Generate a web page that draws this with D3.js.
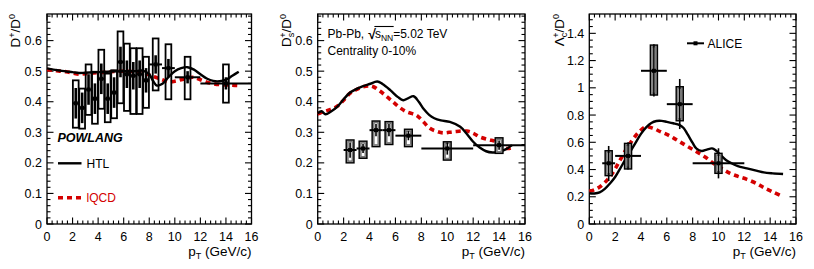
<!DOCTYPE html>
<html><head><meta charset="utf-8">
<script src="https://cdn.jsdelivr.net/npm/d3@7"></script>
<style>
html,body{margin:0;padding:0;background:#fff;}
text{font-family:"Liberation Sans",Arial,Helvetica,sans-serif;}
</style></head>
<body><svg id="c" width="814" height="269"></svg>
<script>
// ---------- DATA ----------
// Panel 1: D+/D0
const dplusPt      = [2.25,2.75,3.25,3.75,4.25,4.75,5.25,5.75,6.25,6.75,7.25,7.75,8.5,9.5,11,14];
const dplusXlo     = [2,2.5,3,3.5,4,4.5,5,5.5,6,6.5,7,7.5,8,9,10,12];
const dplusXhi     = [2.5,3,3.5,4,4.5,5,5.5,6,6.5,7,7.5,8,9,10,12,16];
const dplusVal     = [0.395,0.38,0.44,0.41,0.475,0.41,0.43,0.53,0.49,0.485,0.49,0.47,0.522,0.51,0.48,0.46];
const dplusStat    = [0.05,0.05,0.05,0.05,0.05,0.05,0.05,0.05,0.045,0.045,0.045,0.04,0.03,0.03,0.02,0.02];
const dplusSystLo  = [0.315,0.312,0.357,0.328,0.377,0.333,0.346,0.395,0.37,0.36,0.36,0.38,0.437,0.408,0.408,0.397];
const dplusSystHi  = [0.470,0.443,0.522,0.498,0.570,0.492,0.503,0.630,0.59,0.575,0.575,0.547,0.607,0.588,0.547,0.522];
const dplusHtlX    = [0,0.5,1,1.5,2,2.5,3,4,5,6,7,7.5,8,8.3,8.6,9,9.5,10,10.5,11,11.5,12,12.5,13,13.5,14,14.5,15];
const dplusHtlY    = [0.509,0.505,0.502,0.499,0.497,0.494,0.495,0.497,0.499,0.500,0.500,0.502,0.490,0.468,0.453,0.458,0.480,0.500,0.510,0.513,0.505,0.490,0.476,0.468,0.467,0.472,0.485,0.498];
const dplusLqcdX   = [0,0.5,1,1.5,2,2.5,3,4,5,6,7,7.5,8,8.5,9,9.5,10,10.5,11,11.5,12,12.5,13,13.5,14,14.5,15];
const dplusLqcdY   = [0.505,0.503,0.500,0.498,0.494,0.490,0.492,0.495,0.498,0.500,0.498,0.495,0.488,0.480,0.472,0.465,0.467,0.472,0.478,0.480,0.472,0.464,0.459,0.456,0.455,0.454,0.453];

// Panel 2: Ds+/D0
const dsPt     = [2.5,3.5,4.5,5.5,7,10,14];
const dsXlo    = [2,3,4,5,6,8,12];
const dsXhi    = [3,4,5,6,8,12,16];
const dsVal    = [0.242,0.247,0.307,0.307,0.289,0.247,0.258];
const dsStat   = [0.025,0.015,0.02,0.02,0.015,0.02,0.015];
const dsSystLo = [0.200,0.215,0.253,0.260,0.253,0.209,0.231];
const dsSystHi = [0.275,0.271,0.337,0.335,0.310,0.269,0.282];
const dsHtlX   = [0,0.3,0.6,1,1.5,2,2.5,3,3.5,4,4.6,5,5.6,6.2,6.6,7,7.4,7.8,8.2,8.6,9,9.5,10.2,11,11.5,12,12.5,13,13.5,14,14.5,15];
const dsHtlY   = [0.362,0.369,0.359,0.367,0.383,0.408,0.430,0.442,0.451,0.458,0.466,0.458,0.438,0.415,0.405,0.412,0.418,0.400,0.375,0.357,0.346,0.339,0.334,0.318,0.295,0.269,0.250,0.238,0.234,0.236,0.244,0.258];
const dsLqcdX  = [0,0.5,1,1.5,2,2.5,3,3.5,4,4.3,4.8,5.3,5.8,6.3,6.85,7.6,8.1,8.66,9.2,9.7,10.5,11.5,12,12.5,13.2,13.8,14.6,15];
const dsLqcdY  = [0.360,0.368,0.375,0.385,0.405,0.428,0.440,0.449,0.452,0.449,0.435,0.418,0.400,0.382,0.367,0.356,0.337,0.313,0.303,0.298,0.302,0.304,0.297,0.285,0.276,0.269,0.247,0.250];

// Panel 3: Lambda_c+/D0
const lcPt     = [1.5,3,5,7,10];
const lcXlo    = [1,2,4,6,8];
const lcXhi    = [2,4,6,8,12];
const lcVal    = [0.446,0.50,1.125,0.88,0.446];
const lcStatLo = [0.316,0.40,0.937,0.697,0.335];
const lcStatHi = [0.573,0.60,1.32,1.065,0.556];
const lcSystLo = [0.355,0.404,0.947,0.758,0.372];
const lcSystHi = [0.538,0.592,1.314,1.008,0.519];
const lcHtlX   = [0,0.4,0.8,1.2,1.6,2,2.4,2.8,3.2,3.6,4,4.4,4.8,5.2,5.6,6,6.5,7,7.3,7.6,8,8.3,8.7,9.1,9.5,9.8,10.2,10.6,11,11.5,12.2,13,13.5,14.2,15];
const lcHtlY   = [0.225,0.224,0.232,0.258,0.298,0.345,0.409,0.475,0.536,0.600,0.662,0.710,0.742,0.756,0.757,0.750,0.740,0.726,0.705,0.660,0.595,0.553,0.536,0.546,0.555,0.540,0.503,0.468,0.446,0.425,0.409,0.390,0.379,0.372,0.367];
const lcLqcdX  = [0,0.4,0.8,1.2,1.6,2,2.4,2.8,3.2,3.6,4,4.4,5,5.5,6,6.5,7,7.6,8.3,9,9.6,10.2,10.9,11.5,12.2,13,13.5,14.2,15];
const lcLqcdY  = [0.240,0.252,0.272,0.305,0.347,0.405,0.472,0.540,0.598,0.650,0.690,0.714,0.700,0.678,0.658,0.632,0.604,0.570,0.531,0.490,0.446,0.410,0.372,0.350,0.328,0.295,0.268,0.236,0.200];

const xTickVals = [0,2,4,6,8,10,12,14,16];

// ---------- LAYOUT ----------
const svg = d3.select("#c");
const yTop = 14, yBot = 224;
const panels = [
  {left:47,   right:251.5, ymax:0.687, major:0.1, minorN:5},
  {left:317.7,right:525,   ymax:0.687, major:0.1, minorN:5},
  {left:589.3,right:796,   ymax:1.542, major:0.2, minorN:4}
];
const FS = 12.5;

function makePanel(p){
  const x = d3.scaleLinear().domain([0,16]).range([p.left,p.right]);
  const y = d3.scaleLinear().domain([0,p.ymax]).range([yBot,yTop]);
  const g = svg.append("g");
  g.append("rect").attr("x",p.left).attr("y",yTop).attr("width",p.right-p.left).attr("height",yBot-yTop)
    .attr("fill","none").attr("stroke","#000").attr("stroke-width",1.3);
  const xMinor = d3.range(0,16.001,0.4);
  xMinor.forEach(v=>{
    const isMaj = Math.abs(v/2-Math.round(v/2))<1e-6;
    const L = isMaj?6.5:3.5;
    g.append("line").attr("x1",x(v)).attr("x2",x(v)).attr("y1",yBot).attr("y2",yBot-L).attr("stroke","#000").attr("stroke-width",1.1);
    g.append("line").attr("x1",x(v)).attr("x2",x(v)).attr("y1",yTop).attr("y2",yTop+L).attr("stroke","#000").attr("stroke-width",1.1);
  });
  g.selectAll(".xl").data(xTickVals).enter().append("text")
    .attr("x",d=>x(d)).attr("y",241).attr("text-anchor","middle").attr("font-size",FS).text(d=>d);
  const step = p.major/p.minorN;
  const nMin = Math.floor(p.ymax/step+1e-6);
  for(let i=0;i<=nMin;i++){
    const v=i*step; const isMaj = i%p.minorN===0;
    const L = isMaj?6.5:3.5;
    g.append("line").attr("x1",p.left).attr("x2",p.left+L).attr("y1",y(v)).attr("y2",y(v)).attr("stroke","#000").attr("stroke-width",1.1);
    g.append("line").attr("x1",p.right).attr("x2",p.right-L).attr("y1",y(v)).attr("y2",y(v)).attr("stroke","#000").attr("stroke-width",1.1);
  }
  const yMaj = d3.range(0,p.ymax+1e-6,p.major).map(v=>+v.toFixed(3));
  g.selectAll(".yl").data(yMaj).enter().append("text")
    .attr("x",p.left-5).attr("y",d=>y(d)+4.5).attr("text-anchor","end").attr("font-size",FS)
    .text(d=>d3.format("~g")(d));
  const xt = g.append("text").attr("x",p.right).attr("y",256).attr("text-anchor","end").attr("font-size",13.5);
  xt.append("tspan").text("p");
  xt.append("tspan").attr("font-size",9).attr("dy",3).text("T");
  xt.append("tspan").attr("dy",-3).text(" (GeV/c)");
  return {x,y,g};
}

const P = panels.map(makePanel);

function yTitle(cx, parts){
  const t = svg.append("text").attr("transform",`translate(${cx},14) rotate(-90)`).attr("text-anchor","end").attr("font-size",13.5);
  parts.forEach(pt=>{
    const s=t.append("tspan").text(pt.t);
    if(pt.fs) s.attr("font-size",pt.fs);
    if(pt.dy) s.attr("dy",pt.dy);
    if(pt.dx) s.attr("dx",pt.dx);
  });
}
yTitle(20,[{t:"D"},{t:"+",fs:9,dy:-5},{t:"/D",dy:5},{t:"0",fs:9,dy:-5}]);
yTitle(291,[{t:"D"},{t:"s",fs:9,dy:3},{t:"+",fs:9,dy:-8,dx:-5},{t:"/D",dy:5},{t:"0",fs:9,dy:-5}]);
yTitle(564,[{t:"Λ"},{t:"c",fs:9,dy:3},{t:"+",fs:9,dy:-8,dx:-5},{t:"/D",dy:5},{t:"0",fs:9,dy:-5}]);

function curve(pp, xs, ys, kind){
  const line = d3.line().x(d=>pp.x(d[0])).y(d=>pp.y(d[1])).curve(d3.curveCatmullRom.alpha(0.5));
  const pts = xs.map((v,i)=>[v,ys[i]]);
  const path = pp.g.append("path").attr("d",line(pts)).attr("fill","none");
  if(kind==="htl") path.attr("stroke","#000").attr("stroke-width",2.4);
  else path.attr("stroke","#d40000").attr("stroke-width",3.6).attr("stroke-dasharray","5,4");
}

function dataPts(pp, pt, xlo, xhi, val, sLo, sHi, syLo, syHi, bw, style){
  pt.forEach((c,i)=>{
    const cx = pp.x(c);
    const w = pp.x(bw)-pp.x(0);
    if(style==="grey"){
      pp.g.append("rect").attr("x",cx-w/2).attr("y",pp.y(syHi[i])).attr("width",w).attr("height",pp.y(syLo[i])-pp.y(syHi[i]))
        .attr("fill","#8a8a8a").attr("stroke","#000").attr("stroke-width",1.4);
      pp.g.append("rect").attr("x",cx-w/2+2).attr("y",pp.y(syHi[i])+2).attr("width",Math.max(0,w-4)).attr("height",Math.max(0,pp.y(syLo[i])-pp.y(syHi[i])-4))
        .attr("fill","#fff").attr("stroke","#555").attr("stroke-width",0.6);
    } else {
      pp.g.append("rect").attr("x",cx-w/2).attr("y",pp.y(syHi[i])).attr("width",w).attr("height",pp.y(syLo[i])-pp.y(syHi[i]))
        .attr("fill","none").attr("stroke","#000").attr("stroke-width",1.8);
    }
    pp.g.append("line").attr("x1",cx).attr("x2",cx).attr("y1",pp.y(sHi[i])).attr("y2",pp.y(sLo[i]))
      .attr("stroke","#000").attr("stroke-width",style==="grey"?1.6:2.6);
    pp.g.append("line").attr("x1",pp.x(xlo[i])).attr("x2",pp.x(xhi[i])).attr("y1",pp.y(val[i])).attr("y2",pp.y(val[i]))
      .attr("stroke","#000").attr("stroke-width",2);
    pp.g.append("rect").attr("x",cx-2).attr("y",pp.y(val[i])-2).attr("width",4).attr("height",4).attr("fill","#000");
  });
}

// Panel 1
curve(P[0], dplusLqcdX, dplusLqcdY, "lqcd");
curve(P[0], dplusHtlX, dplusHtlY, "htl");
dataPts(P[0], dplusPt, dplusXlo, dplusXhi, dplusVal,
  dplusVal.map((v,i)=>v-dplusStat[i]), dplusVal.map((v,i)=>v+dplusStat[i]),
  dplusSystLo, dplusSystHi, 0.45, "open");
svg.append("text").attr("x",57.5).attr("y",141.5).attr("font-size",12.5).attr("font-weight","bold").attr("font-style","italic").text("POWLANG");
svg.append("line").attr("x1",58).attr("x2",81.5).attr("y1",163.3).attr("y2",163.3).attr("stroke","#000").attr("stroke-width",2.4);
svg.append("text").attr("x",86.5).attr("y",167.8).attr("font-size",12).text("HTL");
svg.append("line").attr("x1",58).attr("x2",81.5).attr("y1",197.7).attr("y2",197.7).attr("stroke","#d40000").attr("stroke-width",3.6).attr("stroke-dasharray","5,4");
svg.append("text").attr("x",86.5).attr("y",202.2).attr("font-size",12).attr("fill","#d40000").text("lQCD");

// Panel 2
curve(P[1], dsLqcdX, dsLqcdY, "lqcd");
curve(P[1], dsHtlX, dsHtlY, "htl");
dataPts(P[1], dsPt, dsXlo, dsXhi, dsVal,
  dsVal.map((v,i)=>v-dsStat[i]), dsVal.map((v,i)=>v+dsStat[i]),
  dsSystLo, dsSystHi, 0.6, "grey");
(function(){
  const fs=12, by=37.5;
  let xx=327.5;
  const t1 = svg.append("text").attr("x",xx).attr("y",by).attr("font-size",fs).text("Pb-Pb,");
  xx += t1.node().getComputedTextLength() + 4;
  const rt = svg.append("text").attr("x",xx).attr("y",by+1).attr("font-size",fs+2).attr("font-weight","bold").text("√");
  const rw = rt.node().getComputedTextLength();
  xx += rw-1;
  const t2 = svg.append("text").attr("x",xx).attr("y",by).attr("font-size",fs);
  t2.append("tspan").text("s");
  t2.append("tspan").attr("font-size",8.5).attr("dy",3).text("NN");
  const sw = t2.node().getComputedTextLength();
  svg.append("line").attr("x1",xx-0.5).attr("x2",xx+sw+0.5).attr("y1",by-11).attr("y2",by-11).attr("stroke","#000").attr("stroke-width",1.1);
  xx += sw;
  svg.append("text").attr("x",xx).attr("y",by).attr("font-size",fs).text("=5.02 TeV");
  svg.append("text").attr("x",327.5).attr("y",54.5).attr("font-size",fs).text("Centrality 0-10%");
})();

// Panel 3
curve(P[2], lcLqcdX, lcLqcdY, "lqcd");
curve(P[2], lcHtlX, lcHtlY, "htl");
dataPts(P[2], lcPt, lcXlo, lcXhi, lcVal, lcStatLo, lcStatHi, lcSystLo, lcSystHi, 0.55, "grey");
svg.append("line").attr("x1",687).attr("x2",704).attr("y1",43.3).attr("y2",43.3).attr("stroke","#000").attr("stroke-width",2);
svg.append("rect").attr("x",693.5).attr("y",41.3).attr("width",4).attr("height",4).attr("fill","#000");
svg.append("text").attr("x",707.5).attr("y",47.5).attr("font-size",12).text("ALICE");
</script></body></html>
